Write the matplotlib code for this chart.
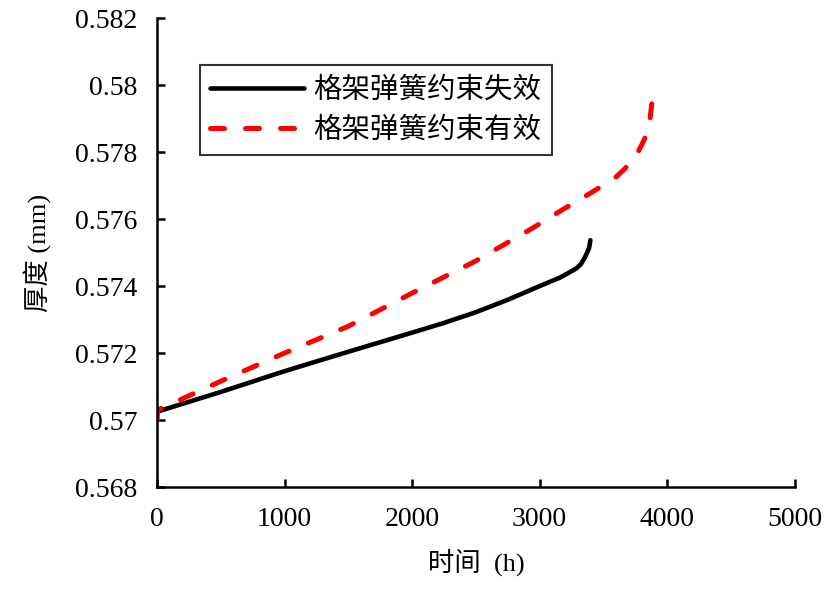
import matplotlib
matplotlib.use("Agg")
import matplotlib.pyplot as plt
from matplotlib.ticker import MultipleLocator, FuncFormatter

plt.rcParams['font.family'] = ['Liberation Serif', 'Noto Sans CJK SC', 'DejaVu Sans']

# Data
t_fail = [0, 500, 1000, 1500, 2000, 2250, 2500, 2750, 3000, 3158, 3230, 3289, 3325,
          3354, 3375, 3388, 3393, 3398]
h_fail = [0.57025, 0.57084, 0.57146, 0.57204, 0.57261, 0.57290, 0.57322, 0.57359,
          0.57400, 0.57425, 0.57440, 0.57453, 0.57466, 0.57485, 0.57502, 0.57514,
          0.57525, 0.57537]

t_ok = [0, 5, 500, 1000, 1500, 2000, 2500, 2949, 3184, 3419, 3472, 3589, 3668,
        3772, 3824, 3864, 3877, 3883]
h_ok = [0.57000, 0.57030, 0.57116, 0.57200, 0.57280, 0.57379, 0.57475, 0.57574,
        0.57629, 0.57682, 0.57695, 0.57722, 0.57750, 0.57800, 0.57840, 0.57895,
        0.57935, 0.57955]

labels = ['格架弹簧约束失效', '格架弹簧约束有效']

fig = plt.figure(figsize=(8.33, 5.89), dpi=100)
ax = fig.add_axes([0.1885, 0.173, 0.7655, 0.7964])

ax.plot(t_fail, h_fail, color='black', lw=3.3, solid_capstyle='round',
        solid_joinstyle='round', label=labels[0])
ax.plot(t_ok, h_ok, color='#ff0000', lw=3.6, dashes=(2.8, 4.2), dash_capstyle='round',
        dash_joinstyle='round', label=labels[1])

ax.set_xlim(0, 5000)
ax.set_ylim(0.568, 0.582)
ax.xaxis.set_major_locator(MultipleLocator(1000))
ax.yaxis.set_major_locator(MultipleLocator(0.002))
ax.yaxis.set_major_formatter(FuncFormatter(lambda v, p: ('%.3f' % v).rstrip('0')))

for s in ['top', 'right']:
    ax.spines[s].set_visible(False)
for s in ['left', 'bottom']:
    ax.spines[s].set_linewidth(1.8)
ax.tick_params(direction='in', length=6, width=1.8, labelsize=20)
ax.tick_params(axis='x', pad=14)
ax.tick_params(axis='y', pad=14)

ax.set_xlabel('时间  (h)', fontsize=19, labelpad=12)
ax.set_ylabel('厚度 (mm)', fontsize=19, labelpad=17)

leg = ax.legend(loc='upper left', bbox_to_anchor=(0.067, 0.9), frameon=True, fancybox=False,
                edgecolor='black', handlelength=3.3, borderpad=0.35,
                labelspacing=0.35, handletextpad=0.35, borderaxespad=0,
                prop={'family': ['Noto Sans CJK SC'], 'size': 20.5})
leg.get_frame().set_linewidth(1.5)

fig.savefig('out.png', dpi=100)
